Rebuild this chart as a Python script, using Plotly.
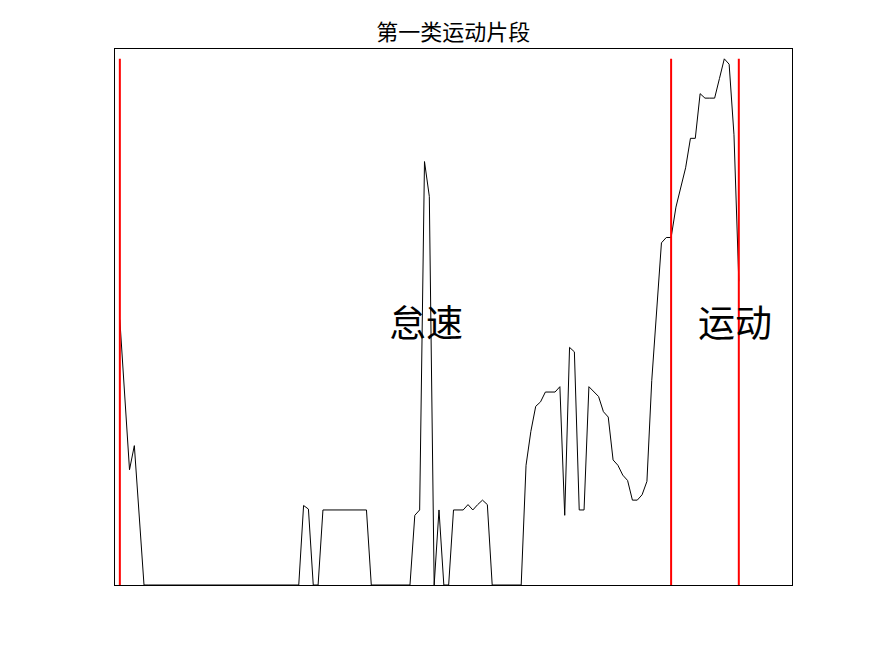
import plotly.graph_objects as go

# time index (s) and speed values
t = list(range(1, 130))
speed = (
    [29.7, 21.3, 12.9, 15.6, 7.8]
    + [0.0] * 33
    + [8.9, 8.5, 0.0, 0.0]
    + [8.4] * 10
    + [0.0] * 9
    + [7.8, 8.4, 47.4, 43.5, 0.0, 8.4, 0.0, 0.0, 8.4, 8.4, 8.4, 9.0, 8.4, 9.0, 9.5, 9.0]
    + [0.0] * 7
    + [13.4, 17.2, 20.0, 20.5, 21.6, 21.6, 21.6, 22.2, 7.8, 26.6, 26.1, 8.4, 8.4,
       22.2, 21.6, 21.1, 19.4, 18.8, 14.0, 13.4, 12.3, 11.7, 9.5, 9.5, 10.1, 11.6,
       22.9, 30.7, 38.3, 38.9, 38.9, 42.3, 44.5, 46.7, 50.0, 50.0, 55.0, 54.5, 54.5,
       54.5, 56.7, 58.9, 58.3, 50.4, 34.0]
)

boundaries = [1, 115, 129]
labels = ["怠速", "运动"]
label_x = [57, 121]
label_y = [29.3, 29.3]
title_text = "第一类运动片段"

fig = go.Figure()
fig.add_trace(go.Scatter(x=t, y=speed, mode="lines",
                         line=dict(color="black", width=1), showlegend=False))
vmax = max(speed)
for b in boundaries:
    fig.add_trace(go.Scatter(x=[b, b], y=[0, vmax], mode="lines",
                             line=dict(color="#ff0000", width=2), showlegend=False))

for lx, ly, lab in zip(label_x, label_y, labels):
    fig.add_annotation(x=lx, y=ly, text=lab, showarrow=False, xanchor="left",
                       yanchor="middle", xshift=-4, yshift=2,
                       font=dict(family="Noto Sans CJK SC", size=37, color="black"))

fig.update_layout(
    width=875, height=656,
    margin=dict(l=115, r=83, t=49, b=71),
    paper_bgcolor="white", plot_bgcolor="white",
    title=dict(text=title_text, x=0.518, xanchor="center", y=1 - 32 / 656,
               yanchor="middle",
               font=dict(family="Noto Sans CJK SC", size=22, color="black")),
    xaxis=dict(range=[0, 140], showticklabels=False, ticks="", showgrid=False,
               zeroline=False, showline=True, linecolor="black", linewidth=1,
               mirror=True),
    yaxis=dict(range=[0, 60], showticklabels=False, ticks="", showgrid=False,
               zeroline=False, showline=True, linecolor="black", linewidth=1,
               mirror=True),
)
fig.write_html("out.html")
